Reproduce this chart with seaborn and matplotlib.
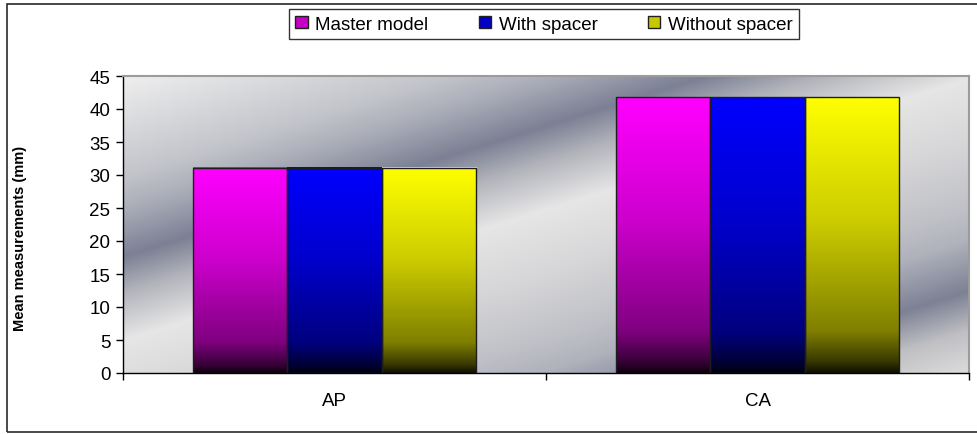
import numpy as np
import pandas as pd
import matplotlib
matplotlib.use("Agg")
import matplotlib.pyplot as plt
from matplotlib.patches import Patch, Rectangle
from matplotlib.colors import to_rgb
import seaborn as sns

# ----------------------------
# data
# ----------------------------
regions = ["AP", "CA"]
groups = ["Master model", "With spacer", "Without spacer"]
master_model = [31.1, 41.8]
with_spacer = [31.1, 41.8]
without_spacer = [31.1, 41.8]
y_ticks = [0, 5, 10, 15, 20, 25, 30, 35, 40, 45]

bar_colors = ["#ff00ff", "#0000ff", "#ffff00"]
legend_colors = ["#c800c8", "#0000c8", "#c8c800"]

df = pd.DataFrame({
    "region": regions * 3,
    "group": [g for g in groups for _ in regions],
    "value": master_model + with_spacer + without_spacer,
})

plt.rcParams["font.family"] = ["Liberation Sans", "DejaVu Sans"]

fig = plt.figure(figsize=(9.77, 4.35), dpi=100)
ax = fig.add_axes([123 / 977, 1 - 374 / 435, 846 / 977, 297 / 435])

sns.barplot(
    data=df, x="region", y="value", hue="group",
    palette=bar_colors, saturation=1, width=0.67, errorbar=None,
    edgecolor="#1e1e1e", linewidth=1.0, legend=False, ax=ax,
)

# vertical "shaded" fill for each bar: bright at top, dark at the bottom
s = np.linspace(0, 1, 256)
shade = np.interp(s, [0.0, 0.45, 0.85, 0.96, 1.0], [1.0, 0.8, 0.5, 0.22, 0.06])
for p in list(ax.patches):
    base = np.array(p.get_facecolor()[:3])
    grad = shade[:, None, None] * base[None, None, :]
    x0, y0 = p.get_x(), p.get_y()
    w, h = p.get_width(), p.get_height()
    ax.imshow(grad, extent=[x0, x0 + w, y0, y0 + h], aspect="auto",
              origin="upper", interpolation="bilinear", zorder=1.5)
    p.set_facecolor("none")
    p.set_zorder(2)

# silver diagonal background of the plot area
H, W = 300, 850
u = np.linspace(0, 1, W)
v = np.linspace(1, 0, H)
xp = 123 + 846 * u
yp = 77 + 297 * (1 - v)
t = 0.31 * xp[None, :] + yp[:, None]
stops = [115, 216, 249, 296, 333, 380, 445, 512, 541, 593, 633, 675]
stop_cols = ["#efefef", "#c2c4ca", "#aaadb8", "#7b8094", "#b4b5bc", "#e6e6e6",
             "#d6d6d8", "#bfc0c6", "#b0b2bc", "#7c8194", "#c0c0c4", "#dcdcdc"]
rgb = np.array([to_rgb(c) for c in stop_cols])
bg = np.stack([np.interp(t, stops, rgb[:, k]) for k in range(3)], axis=-1)
ax.imshow(bg, extent=[0, 1, 0, 1], transform=ax.transAxes, aspect="auto",
          origin="upper", interpolation="bilinear", zorder=0)

ax.set_xlim(-0.5, 1.5)
ax.set_ylim(0, 45)
ax.set_yticks(y_ticks)
ax.set_xticks([0, 1])
ax.set_xticks([-0.5, 0.5, 1.5], minor=True)
ax.tick_params(axis="y", which="major", direction="out", length=5, width=1,
               labelsize=13.5, pad=4, colors="black")
ax.tick_params(axis="x", which="major", length=0, pad=14, labelsize=13.5)
ax.tick_params(axis="x", which="minor", direction="out", length=5, width=1)
ax.set_xlabel("")
ax.set_ylabel("Mean measurements (mm)", fontsize=10.5, fontweight="bold")
ax.yaxis.set_label_coords(-0.1135, 0.455)

for side in ["left", "bottom"]:
    ax.spines[side].set_color("black")
    ax.spines[side].set_linewidth(1.0)
for side in ["top", "right"]:
    ax.spines[side].set_color("#9c9c9c")
    ax.spines[side].set_linewidth(1.5)

handles = [Patch(facecolor=c, edgecolor="#202020", linewidth=1) for c in legend_colors]
leg = fig.legend(
    handles, groups, loc="center", bbox_to_anchor=(544 / 977, 1 - 25 / 435),
    ncol=3, frameon=True, fancybox=False, edgecolor="black", fontsize=13.5,
    handlelength=0.65, handleheight=0.65, handletextpad=0.4,
    columnspacing=2.7, borderpad=0.35, borderaxespad=0,
)
leg.get_frame().set_linewidth(1.0)

# outer chart border
fig.add_artist(Rectangle((7 / 977, 1 - 433 / 435), 1.0, 428 / 435,
                         transform=fig.transFigure, fill=False,
                         edgecolor="#2a2a2a", linewidth=1.2))

fig.savefig("out.png", dpi=100)
